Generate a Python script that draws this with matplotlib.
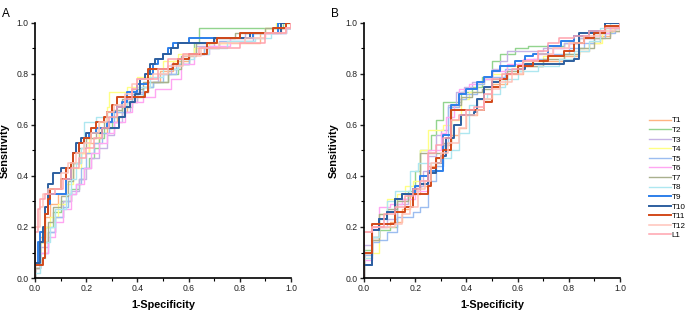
import numpy as np
import matplotlib.pyplot as plt
from matplotlib.ticker import MultipleLocator

labels = ['T1', 'T2', 'T3', 'T4', 'T5', 'T6', 'T7', 'T8', 'T9', 'T10', 'T11', 'T12', 'L1']
colors = ['#FFB482', '#92D48E', '#C6B3E4', '#FFFF85', '#9CBDF0', '#FFA6F2', '#A9B08E',
          '#AEE7F0', '#2D7FEA', '#2D5F9F', '#D2491A', '#FFC3BA', '#FFA3AE']
widths = [1.0] * 8 + [1.4, 1.4, 1.4, 1.1, 1.1]

# panel A: ROC corner points (1-specificity, sensitivity)
a_t1 = [(0, 0), (0, 0.06), (0.02, 0.16), (0.04, 0.24), (0.06, 0.29), (0.09, 0.33), (0.12, 0.39),
        (0.15, 0.45), (0.18, 0.49), (0.21, 0.53), (0.25, 0.57), (0.28, 0.61), (0.32, 0.65),
        (0.36, 0.69), (0.40, 0.73), (0.44, 0.77), (0.49, 0.81), (0.54, 0.85), (0.6, 0.88),
        (0.66, 0.9), (0.72, 0.92), (0.88, 0.96), (0.96, 0.98), (1, 1)]
a_t2 = [(0, 0), (0, 0.04), (0.02, 0.14), (0.04, 0.2), (0.07, 0.26), (0.1, 0.3), (0.14, 0.35),
        (0.17, 0.39), (0.19, 0.43), (0.21, 0.47), (0.23, 0.51), (0.25, 0.55), (0.27, 0.59),
        (0.3, 0.63), (0.34, 0.67), (0.38, 0.71), (0.42, 0.75), (0.46, 0.77), (0.52, 0.8),
        (0.56, 0.84), (0.6, 0.88), (0.62, 0.92), (0.64, 0.98), (0.97, 1.0), (1, 1)]
a_t3 = [(0, 0), (0, 0.04), (0.02, 0.12), (0.05, 0.18), (0.08, 0.24), (0.11, 0.3), (0.14, 0.34),
        (0.17, 0.39), (0.2, 0.43), (0.22, 0.47), (0.25, 0.51), (0.28, 0.56), (0.31, 0.61),
        (0.34, 0.65), (0.37, 0.69), (0.4, 0.73), (0.44, 0.77), (0.48, 0.8), (0.53, 0.84),
        (0.58, 0.88), (0.63, 0.91), (0.7, 0.94), (0.82, 0.96), (0.95, 0.98), (1, 1)]
a_t4 = [(0, 0), (0, 0.06), (0.02, 0.14), (0.04, 0.2), (0.06, 0.24), (0.09, 0.29), (0.12, 0.37),
        (0.15, 0.43), (0.18, 0.49), (0.21, 0.55), (0.25, 0.61), (0.28, 0.67), (0.29, 0.73),
        (0.36, 0.75), (0.4, 0.79), (0.45, 0.82), (0.5, 0.85), (0.56, 0.88), (0.62, 0.9),
        (0.68, 0.92), (0.76, 0.94), (0.9, 0.98), (0.94, 1.0), (1, 1)]
a_t5 = [(0, 0), (0, 0.06), (0.02, 0.1), (0.05, 0.18), (0.08, 0.24), (0.11, 0.28), (0.13, 0.33),
        (0.16, 0.37), (0.18, 0.43), (0.2, 0.49), (0.23, 0.53), (0.26, 0.57), (0.29, 0.61),
        (0.31, 0.65), (0.35, 0.69), (0.38, 0.72), (0.42, 0.75), (0.46, 0.77), (0.5, 0.8),
        (0.55, 0.84), (0.6, 0.88), (0.66, 0.9), (0.72, 0.93), (0.85, 0.96), (0.98, 0.98), (1, 1)]
a_t6 = [(0, 0), (0, 0.04), (0.02, 0.1), (0.05, 0.16), (0.08, 0.22), (0.11, 0.27), (0.14, 0.33),
        (0.16, 0.37), (0.19, 0.43), (0.22, 0.49), (0.25, 0.53), (0.28, 0.57), (0.31, 0.61),
        (0.35, 0.65), (0.38, 0.69), (0.42, 0.71), (0.47, 0.74), (0.53, 0.78), (0.57, 0.84),
        (0.62, 0.88), (0.68, 0.91), (0.76, 0.94), (0.9, 0.96), (0.98, 0.98), (1, 1)]
a_t7 = [(0, 0), (0, 0.04), (0.02, 0.14), (0.05, 0.22), (0.07, 0.28), (0.1, 0.32), (0.13, 0.38),
        (0.15, 0.45), (0.17, 0.51), (0.2, 0.55), (0.24, 0.59), (0.27, 0.63), (0.3, 0.66),
        (0.34, 0.7), (0.38, 0.74), (0.42, 0.77), (0.48, 0.77), (0.52, 0.82), (0.57, 0.87),
        (0.63, 0.92), (0.7, 0.94), (0.78, 0.96), (0.9, 0.98), (1, 1)]
a_t8 = [(0, 0), (0, 0.02), (0.02, 0.08), (0.04, 0.14), (0.06, 0.2), (0.08, 0.27), (0.12, 0.33),
        (0.14, 0.39), (0.16, 0.45), (0.18, 0.51), (0.19, 0.61), (0.24, 0.63), (0.28, 0.65),
        (0.32, 0.68), (0.36, 0.71), (0.4, 0.75), (0.45, 0.79), (0.5, 0.82), (0.56, 0.86),
        (0.62, 0.88), (0.68, 0.9), (0.75, 0.93), (0.86, 0.94), (0.92, 0.96), (0.98, 0.98), (1, 1)]
a_t9 = [(0, 0), (0, 0.06), (0.01, 0.14), (0.02, 0.18), (0.04, 0.25), (0.05, 0.29), (0.06, 0.33),
        (0.12, 0.39), (0.14, 0.45), (0.15, 0.49), (0.17, 0.53), (0.19, 0.55), (0.21, 0.57),
        (0.24, 0.59), (0.28, 0.61), (0.3, 0.65), (0.32, 0.67), (0.34, 0.69), (0.36, 0.73),
        (0.4, 0.76), (0.44, 0.8), (0.46, 0.84), (0.48, 0.86), (0.5, 0.88), (0.52, 0.9),
        (0.54, 0.92), (0.6, 0.94), (0.85, 0.96), (0.95, 1.0), (1, 1)]
a_t10 = [(0, 0), (0, 0.06), (0.02, 0.14), (0.03, 0.2), (0.04, 0.28), (0.05, 0.37), (0.07, 0.41),
         (0.1, 0.43), (0.14, 0.45), (0.15, 0.49), (0.16, 0.53), (0.18, 0.55), (0.2, 0.57),
         (0.26, 0.59), (0.33, 0.63), (0.35, 0.67), (0.37, 0.69), (0.39, 0.72), (0.41, 0.78),
         (0.43, 0.8), (0.45, 0.84), (0.47, 0.86), (0.5, 0.88), (0.53, 0.9), (0.56, 0.92),
         (0.7, 0.94), (0.84, 0.96), (0.96, 1.0), (1, 1)]
a_t11 = [(0, 0), (0, 0.05), (0.03, 0.08), (0.04, 0.25), (0.05, 0.31), (0.06, 0.35), (0.1, 0.39),
         (0.12, 0.43), (0.14, 0.45), (0.15, 0.49), (0.17, 0.53), (0.19, 0.55), (0.22, 0.59),
         (0.24, 0.61), (0.27, 0.63), (0.28, 0.65), (0.3, 0.68), (0.32, 0.71), (0.43, 0.73),
         (0.44, 0.82), (0.54, 0.84), (0.56, 0.86), (0.6, 0.88), (0.67, 0.92), (0.71, 0.94),
         (0.8, 0.96), (0.93, 0.98), (0.98, 1.0), (1, 1)]
a_t12 = [(0, 0), (0, 0.2), (0.02, 0.28), (0.03, 0.33), (0.05, 0.35), (0.1, 0.41), (0.13, 0.45),
         (0.16, 0.49), (0.19, 0.53), (0.22, 0.57), (0.25, 0.61), (0.28, 0.65), (0.31, 0.68),
         (0.35, 0.72), (0.38, 0.76), (0.4, 0.78), (0.46, 0.8), (0.52, 0.83), (0.58, 0.87),
         (0.65, 0.9), (0.72, 0.92), (0.82, 0.94), (0.9, 0.96), (0.98, 0.98), (1, 1)]
a_l1 = [(0, 0), (0, 0.18), (0.01, 0.27), (0.02, 0.31), (0.04, 0.33), (0.08, 0.35), (0.11, 0.39),
        (0.14, 0.43), (0.17, 0.47), (0.2, 0.51), (0.23, 0.55), (0.26, 0.59), (0.29, 0.63),
        (0.32, 0.67), (0.35, 0.7), (0.38, 0.74), (0.4, 0.78), (0.48, 0.82), (0.52, 0.86),
        (0.58, 0.88), (0.64, 0.9), (0.8, 0.92), (0.9, 0.96), (0.98, 0.98), (1, 1)]

# panel B
b_t1 = [(0, 0), (0, 0.1), (0.03, 0.15), (0.06, 0.2), (0.1, 0.22), (0.15, 0.27), (0.18, 0.33),
        (0.22, 0.36), (0.25, 0.44), (0.28, 0.47), (0.31, 0.52), (0.34, 0.56), (0.37, 0.59),
        (0.4, 0.64), (0.44, 0.7), (0.5, 0.76), (0.56, 0.8), (0.62, 0.83), (0.7, 0.85),
        (0.78, 0.87), (0.84, 0.89), (0.88, 0.92), (0.92, 0.95), (0.96, 0.97), (1, 1)]
b_t2 = [(0, 0), (0, 0.11), (0.03, 0.16), (0.06, 0.19), (0.1, 0.2), (0.13, 0.31), (0.17, 0.34),
        (0.2, 0.42), (0.22, 0.5), (0.26, 0.56), (0.28, 0.62), (0.31, 0.69), (0.38, 0.73),
        (0.42, 0.75), (0.46, 0.79), (0.5, 0.85), (0.53, 0.88), (0.59, 0.9), (0.64, 0.91),
        (0.78, 0.92), (0.84, 0.94), (0.9, 0.96), (0.94, 0.98), (1, 1)]
b_t3 = [(0, 0), (0, 0.13), (0.03, 0.16), (0.06, 0.2), (0.09, 0.23), (0.13, 0.29), (0.17, 0.33),
        (0.2, 0.36), (0.23, 0.42), (0.25, 0.48), (0.28, 0.56), (0.3, 0.58), (0.33, 0.68),
        (0.36, 0.73), (0.39, 0.75), (0.42, 0.77), (0.47, 0.79), (0.5, 0.82), (0.53, 0.85),
        (0.56, 0.89), (0.7, 0.9), (0.78, 0.92), (0.84, 0.94), (0.9, 0.96), (0.96, 0.98), (1, 1)]
b_t4 = [(0, 0), (0, 0.08), (0.03, 0.1), (0.06, 0.25), (0.09, 0.31), (0.13, 0.33), (0.16, 0.36),
        (0.19, 0.38), (0.22, 0.5), (0.25, 0.58), (0.31, 0.6), (0.34, 0.62), (0.38, 0.7),
        (0.41, 0.73), (0.44, 0.76), (0.47, 0.78), (0.5, 0.8), (0.56, 0.83), (0.62, 0.85),
        (0.7, 0.87), (0.78, 0.88), (0.84, 0.9), (0.88, 0.92), (0.93, 0.96), (0.97, 0.98), (1, 1)]
b_t5 = [(0, 0), (0, 0.09), (0.03, 0.14), (0.06, 0.15), (0.09, 0.18), (0.13, 0.24), (0.19, 0.26),
        (0.22, 0.28), (0.25, 0.38), (0.28, 0.44), (0.31, 0.52), (0.33, 0.67), (0.37, 0.7),
        (0.4, 0.72), (0.44, 0.76), (0.47, 0.78), (0.5, 0.79), (0.55, 0.82), (0.6, 0.84),
        (0.66, 0.86), (0.72, 0.88), (0.8, 0.9), (0.86, 0.92), (0.9, 0.94), (0.94, 0.96),
        (0.98, 0.98), (1, 1)]
b_t6 = [(0, 0), (0, 0.07), (0.03, 0.2), (0.06, 0.28), (0.1, 0.29), (0.15, 0.31), (0.2, 0.34),
        (0.25, 0.5), (0.3, 0.57), (0.32, 0.63), (0.35, 0.68), (0.37, 0.74), (0.41, 0.76),
        (0.44, 0.77), (0.47, 0.78), (0.5, 0.81), (0.56, 0.84), (0.62, 0.86), (0.68, 0.88),
        (0.74, 0.9), (0.8, 0.92), (0.86, 0.94), (0.92, 0.96), (0.96, 0.98), (1, 1)]
b_t7 = [(0, 0), (0, 0.1), (0.03, 0.15), (0.06, 0.25), (0.09, 0.27), (0.13, 0.3), (0.17, 0.33),
        (0.2, 0.35), (0.22, 0.49), (0.31, 0.53), (0.34, 0.68), (0.38, 0.71), (0.42, 0.73),
        (0.46, 0.74), (0.5, 0.78), (0.56, 0.81), (0.62, 0.83), (0.7, 0.86), (0.78, 0.88),
        (0.84, 0.9), (0.9, 0.94), (0.96, 0.97), (1, 1)]
b_t8 = [(0, 0), (0, 0.08), (0.03, 0.16), (0.06, 0.23), (0.09, 0.3), (0.12, 0.34), (0.18, 0.42),
        (0.21, 0.45), (0.31, 0.47), (0.34, 0.5), (0.37, 0.57), (0.41, 0.68), (0.44, 0.7),
        (0.48, 0.72), (0.53, 0.75), (0.55, 0.78), (0.6, 0.81), (0.68, 0.83), (0.76, 0.86),
        (0.82, 0.89), (0.88, 0.93), (0.92, 0.98), (0.96, 1.0), (1, 1)]
b_t9 = [(0, 0), (0, 0.05), (0.03, 0.19), (0.06, 0.23), (0.09, 0.26), (0.12, 0.31), (0.15, 0.33),
        (0.2, 0.36), (0.22, 0.4), (0.25, 0.42), (0.31, 0.56), (0.34, 0.68), (0.37, 0.72),
        (0.4, 0.74), (0.44, 0.77), (0.47, 0.79), (0.5, 0.81), (0.53, 0.83), (0.59, 0.85),
        (0.63, 0.87), (0.66, 0.88), (0.72, 0.91), (0.77, 0.93), (0.82, 0.95), (0.88, 0.97),
        (0.94, 1.0), (1, 1)]
b_t10 = [(0, 0), (0, 0.05), (0.03, 0.19), (0.06, 0.23), (0.09, 0.26), (0.12, 0.31), (0.15, 0.33),
         (0.19, 0.35), (0.22, 0.37), (0.25, 0.41), (0.28, 0.45), (0.3, 0.48), (0.32, 0.55),
         (0.35, 0.6), (0.38, 0.64), (0.43, 0.65), (0.44, 0.7), (0.47, 0.75), (0.5, 0.77),
         (0.53, 0.78), (0.56, 0.8), (0.6, 0.82), (0.63, 0.84), (0.78, 0.85), (0.82, 0.86),
         (0.84, 0.96), (0.94, 1.0), (1, 1)]
b_t11 = [(0, 0), (0, 0.1), (0.03, 0.21), (0.12, 0.26), (0.16, 0.28), (0.19, 0.33), (0.25, 0.36),
         (0.26, 0.43), (0.28, 0.47), (0.31, 0.5), (0.34, 0.66), (0.47, 0.69), (0.5, 0.75),
         (0.53, 0.78), (0.56, 0.8), (0.6, 0.83), (0.66, 0.85), (0.72, 0.87), (0.78, 0.89),
         (0.82, 0.92), (0.86, 0.94), (0.9, 0.96), (0.94, 0.99), (1, 0.99)]
b_t12 = [(0, 0), (0, 0.18), (0.03, 0.2), (0.12, 0.21), (0.15, 0.25), (0.18, 0.28), (0.21, 0.35),
         (0.24, 0.38), (0.26, 0.45), (0.3, 0.49), (0.33, 0.53), (0.37, 0.59), (0.4, 0.64),
         (0.44, 0.66), (0.47, 0.7), (0.5, 0.74), (0.53, 0.77), (0.58, 0.8), (0.62, 0.85),
         (0.68, 0.88), (0.74, 0.9), (0.8, 0.92), (0.86, 0.95), (0.92, 0.97), (0.98, 0.98), (1, 1)]
b_l1 = [(0, 0), (0, 0.18), (0.03, 0.2), (0.08, 0.25), (0.12, 0.28), (0.16, 0.32), (0.19, 0.35),
        (0.22, 0.38), (0.25, 0.49), (0.28, 0.52), (0.31, 0.55), (0.34, 0.62), (0.37, 0.64),
        (0.4, 0.66), (0.43, 0.67), (0.47, 0.72), (0.5, 0.78), (0.54, 0.8), (0.58, 0.82),
        (0.62, 0.85), (0.68, 0.89), (0.72, 0.92), (0.76, 0.94), (0.82, 0.95), (0.88, 0.97),
        (0.94, 0.98), (1, 1)]

curves_a = [a_t1, a_t2, a_t3, a_t4, a_t5, a_t6, a_t7, a_t8, a_t9, a_t10, a_t11, a_t12, a_l1]
curves_b = [b_t1, b_t2, b_t3, b_t4, b_t5, b_t6, b_t7, b_t8, b_t9, b_t10, b_t11, b_t12, b_l1]

plt.rcParams['font.family'] = ['Liberation Sans', 'DejaVu Sans']

fig = plt.figure(figsize=(6.85, 3.11), dpi=100)
ax_a = fig.add_axes([0.0511, 0.1061, 0.3737, 0.820])
ax_b = fig.add_axes([0.5314, 0.1061, 0.3737, 0.820])

draw_order = [0, 1, 2, 3, 4, 5, 6, 7, 11, 12, 9, 8, 10]

for ax, curves, tag in [(ax_a, curves_a, 'A'), (ax_b, curves_b, 'B')]:
    for i in draw_order:
        pts = np.array(curves[i])
        ax.step(pts[:, 0], pts[:, 1], where='post', color=colors[i], lw=widths[i],
                label=labels[i], zorder=2 + i * 0.01)
    ax.set_xlim(0, 1)
    ax.set_ylim(0, 1)
    ax.spines['top'].set_visible(False)
    ax.spines['right'].set_visible(False)
    for s in ['left', 'bottom']:
        ax.spines[s].set_linewidth(1.2)
    ax.xaxis.set_major_locator(MultipleLocator(0.2))
    ax.yaxis.set_major_locator(MultipleLocator(0.2))
    ax.xaxis.set_minor_locator(MultipleLocator(0.1))
    ax.yaxis.set_minor_locator(MultipleLocator(0.1))
    ax.xaxis.set_major_formatter(plt.FormatStrFormatter('%.1f'))
    ax.yaxis.set_major_formatter(plt.FormatStrFormatter('%.1f'))
    ax.tick_params(which='major', direction='out', length=3, width=1, labelsize=6.2,
                   colors='#222222', pad=1.5)
    ax.tick_params(which='minor', direction='out', length=2, width=0.8)
    ax.set_xlabel('1-Specificity', fontsize=7.8, fontweight='bold', labelpad=5)
    ax.set_ylabel('Sensitivity', fontsize=7.8, fontweight='bold', labelpad=5)
    ax.text(-0.13, 1.059, tag, transform=ax.transAxes, fontsize=8.5, va='top', ha='left')

handles, _ = ax_b.get_legend_handles_labels()
order = [draw_order.index(i) for i in range(13)]
ax_b.legend([handles[k] for k in order], labels, loc='upper left', bbox_to_anchor=(1.1, 0.645),
            frameon=False, fontsize=5.8, handlelength=2.7, handletextpad=0.15,
            labelspacing=0.24, borderaxespad=0)

fig.savefig('out.png', dpi=100)
